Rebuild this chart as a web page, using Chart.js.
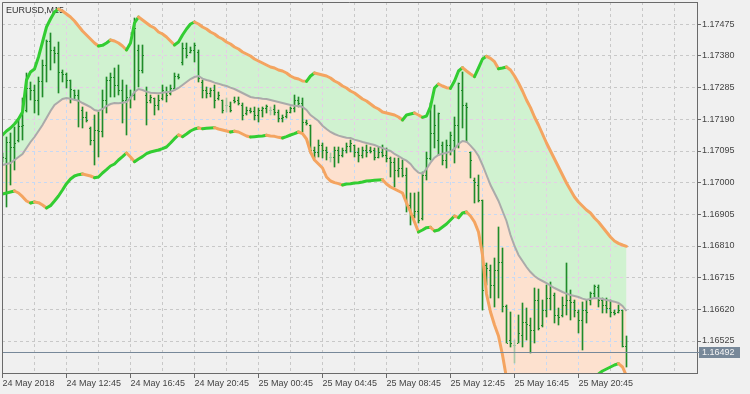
<!DOCTYPE html>
<html>
<head>
<meta charset="utf-8">
<title>EURUSD,M15</title>
<script src="https://cdn.jsdelivr.net/npm/chart.js@4.4.1/dist/chart.umd.min.js"></script>
<style>
  html, body { margin: 0; padding: 0; background: #f0f0f0; }
  #wrap { width: 750px; height: 394px; }
</style>
</head>
<body>
<div id="wrap"><canvas id="chart" width="750" height="394"></canvas></div>
<script>
const symbol = "EURUSD,M15";
const lastPrice = 1.16492;

// one label every 16 bars (4 hours of M15), grid line every 8 bars
const timeLabels = [
  "24 May 2018", "24 May 12:45", "24 May 16:45", "24 May 20:45", "25 May 00:45",
  "25 May 04:45", "25 May 08:45", "25 May 12:45", "25 May 16:45", "25 May 20:45"
];
const barsPerLabel = 16;
const barsPerGrid = 8;

const priceTicks = [1.16525, 1.16620, 1.16715, 1.16810, 1.16905, 1.17000,
  1.17095, 1.17190, 1.17285, 1.17380, 1.17475];

const opens = [
  1.17068, 1.17074, 1.17122, 1.17107, 1.17128, 1.17170, 1.17218, 1.17284, 1.17278, 1.17248,
  1.17305, 1.17353, 1.17425, 1.17398, 1.17389, 1.17332, 1.17326, 1.17308, 1.17278, 1.17263,
  1.17218, 1.17197, 1.17164, 1.17128, 1.17158, 1.17155, 1.17248, 1.17308, 1.17317, 1.17293,
  1.17278, 1.17248, 1.17257, 1.17263, 1.17398, 1.17338, 1.17263, 1.17248, 1.17254, 1.17233,
  1.17254, 1.17272, 1.17269, 1.17284, 1.17320, 1.17362, 1.17404, 1.17392, 1.17398, 1.17392,
  1.17302, 1.17278, 1.17269, 1.17278, 1.17254, 1.17248, 1.17233, 1.17230, 1.17248, 1.17248,
  1.17233, 1.17209, 1.17218, 1.17215, 1.17203, 1.17218, 1.17224, 1.17218, 1.17221, 1.17212,
  1.17194, 1.17200, 1.17212, 1.17224, 1.17248, 1.17239, 1.17182, 1.17173, 1.17098, 1.17092,
  1.17113, 1.17098, 1.17077, 1.17077, 1.17098, 1.17083, 1.17098, 1.17110, 1.17113, 1.17092,
  1.17083, 1.17098, 1.17098, 1.17098, 1.17077, 1.17092, 1.17083, 1.17074, 1.17062, 1.17038,
  1.17044, 1.17023, 1.16933, 1.16903, 1.16915, 1.16894, 1.17023, 1.17074, 1.17149, 1.17128,
  1.17113, 1.17068, 1.17113, 1.17128, 1.17173, 1.17278, 1.17233, 1.17092, 1.17008, 1.16993,
  1.16948, 1.16753, 1.16738, 1.16693, 1.16738, 1.16762, 1.16630, 1.16528, 1.16513, 1.16519,
  1.16543, 1.16582, 1.16573, 1.16558, 1.16648, 1.16573, 1.16618, 1.16654, 1.16663, 1.16603,
  1.16603, 1.16633, 1.16648, 1.16642, 1.16612, 1.16588, 1.16618, 1.16648, 1.16669, 1.16687,
  1.16648, 1.16633, 1.16624, 1.16612, 1.16612, 1.16618, 1.16510
];
const highs = [
  1.17089, 1.17137, 1.17149, 1.17167, 1.17188, 1.17254, 1.17329, 1.17302, 1.17293, 1.17317,
  1.17368, 1.17428, 1.17449, 1.17407, 1.17422, 1.17338, 1.17329, 1.17308, 1.17278, 1.17278,
  1.17227, 1.17212, 1.17167, 1.17203, 1.17212, 1.17278, 1.17317, 1.17329, 1.17344, 1.17353,
  1.17308, 1.17293, 1.17278, 1.17494, 1.17413, 1.17413, 1.17287, 1.17263, 1.17254, 1.17263,
  1.17293, 1.17287, 1.17293, 1.17329, 1.17326, 1.17419, 1.17419, 1.17407, 1.17419, 1.17398,
  1.17308, 1.17287, 1.17284, 1.17293, 1.17272, 1.17248, 1.17254, 1.17242, 1.17257, 1.17257,
  1.17239, 1.17227, 1.17224, 1.17227, 1.17224, 1.17227, 1.17233, 1.17227, 1.17233, 1.17218,
  1.17203, 1.17218, 1.17227, 1.17263, 1.17257, 1.17254, 1.17188, 1.17173, 1.17107, 1.17128,
  1.17119, 1.17107, 1.17089, 1.17107, 1.17107, 1.17104, 1.17119, 1.17128, 1.17113, 1.17104,
  1.17107, 1.17113, 1.17107, 1.17104, 1.17107, 1.17113, 1.17104, 1.17077, 1.17074, 1.17074,
  1.17068, 1.17044, 1.16969, 1.16969, 1.16972, 1.17032, 1.17092, 1.17239, 1.17233, 1.17209,
  1.17122, 1.17128, 1.17152, 1.17197, 1.17299, 1.17332, 1.17239, 1.17092, 1.17014, 1.17023,
  1.16948, 1.16759, 1.16753, 1.16774, 1.16867, 1.16804, 1.16633, 1.16612, 1.16528, 1.16603,
  1.16639, 1.16624, 1.16594, 1.16684, 1.16681, 1.16648, 1.16693, 1.16702, 1.16669, 1.16624,
  1.16657, 1.16759, 1.16678, 1.16648, 1.16618, 1.16642, 1.16648, 1.16672, 1.16693, 1.16693,
  1.16654, 1.16654, 1.16648, 1.16618, 1.16633, 1.16618, 1.16540
];
const lows = [
  1.17062, 1.16927, 1.16993, 1.17038, 1.17122, 1.17128, 1.17212, 1.17248, 1.17209, 1.17203,
  1.17257, 1.17302, 1.17338, 1.17359, 1.17269, 1.17302, 1.17284, 1.17239, 1.17248, 1.17167,
  1.17164, 1.17182, 1.17113, 1.17053, 1.17077, 1.17137, 1.17209, 1.17257, 1.17257, 1.17263,
  1.17179, 1.17143, 1.17224, 1.17248, 1.17287, 1.17329, 1.17173, 1.17239, 1.17203, 1.17218,
  1.17248, 1.17242, 1.17263, 1.17278, 1.17311, 1.17353, 1.17374, 1.17389, 1.17362, 1.17302,
  1.17254, 1.17254, 1.17257, 1.17224, 1.17248, 1.17209, 1.17212, 1.17212, 1.17239, 1.17233,
  1.17188, 1.17203, 1.17209, 1.17188, 1.17182, 1.17197, 1.17209, 1.17203, 1.17203, 1.17182,
  1.17182, 1.17194, 1.17209, 1.17212, 1.17227, 1.17152, 1.17173, 1.17089, 1.17074, 1.17077,
  1.17074, 1.17068, 1.17062, 1.17047, 1.17059, 1.17077, 1.17089, 1.17092, 1.17077, 1.17062,
  1.17074, 1.17077, 1.17089, 1.17068, 1.17074, 1.17077, 1.17062, 1.17017, 1.16987, 1.17017,
  1.17017, 1.16912, 1.16873, 1.16894, 1.16879, 1.16888, 1.17008, 1.17068, 1.17104, 1.17083,
  1.17053, 1.17044, 1.17083, 1.17059, 1.17104, 1.17164, 1.17122, 1.17014, 1.16939, 1.16942,
  1.16618, 1.16693, 1.16654, 1.16627, 1.16654, 1.16612, 1.16519, 1.16507, 1.16459, 1.16519,
  1.16507, 1.16528, 1.16489, 1.16519, 1.16558, 1.16567, 1.16597, 1.16618, 1.16579, 1.16573,
  1.16597, 1.16603, 1.16588, 1.16597, 1.16549, 1.16498, 1.16579, 1.16633, 1.16657, 1.16627,
  1.16609, 1.16609, 1.16597, 1.16603, 1.16609, 1.16507, 1.16447
];
const closes = [
  1.17077, 1.17122, 1.17107, 1.17119, 1.17170, 1.17173, 1.17284, 1.17278, 1.17248, 1.17305,
  1.17353, 1.17425, 1.17398, 1.17389, 1.17332, 1.17326, 1.17308, 1.17281, 1.17263, 1.17248,
  1.17197, 1.17188, 1.17128, 1.17158, 1.17155, 1.17248, 1.17308, 1.17317, 1.17293, 1.17278,
  1.17248, 1.17257, 1.17263, 1.17464, 1.17338, 1.17383, 1.17242, 1.17257, 1.17233, 1.17248,
  1.17278, 1.17263, 1.17284, 1.17320, 1.17317, 1.17404, 1.17383, 1.17398, 1.17413, 1.17314,
  1.17278, 1.17269, 1.17278, 1.17248, 1.17263, 1.17218, 1.17233, 1.17218, 1.17245, 1.17239,
  1.17203, 1.17218, 1.17215, 1.17203, 1.17218, 1.17224, 1.17230, 1.17218, 1.17212, 1.17194,
  1.17197, 1.17212, 1.17224, 1.17248, 1.17239, 1.17182, 1.17179, 1.17098, 1.17092, 1.17113,
  1.17098, 1.17092, 1.17077, 1.17098, 1.17083, 1.17098, 1.17110, 1.17119, 1.17092, 1.17083,
  1.17098, 1.17092, 1.17095, 1.17077, 1.17092, 1.17083, 1.17074, 1.17062, 1.17038, 1.17044,
  1.17023, 1.16933, 1.16903, 1.16915, 1.16888, 1.17023, 1.17074, 1.17149, 1.17173, 1.17209,
  1.17068, 1.17113, 1.17143, 1.17173, 1.17299, 1.17233, 1.17227, 1.17068, 1.17002, 1.16948,
  1.16678, 1.16744, 1.16693, 1.16738, 1.16762, 1.16630, 1.16519, 1.16519, 1.16513, 1.16549,
  1.16582, 1.16576, 1.16558, 1.16648, 1.16564, 1.16618, 1.16654, 1.16690, 1.16603, 1.16597,
  1.16633, 1.16648, 1.16642, 1.16618, 1.16588, 1.16618, 1.16612, 1.16669, 1.16690, 1.16648,
  1.16633, 1.16624, 1.16612, 1.16609, 1.16618, 1.16510, 1.16492
];

const upperBand = [
  1.17143, 1.17155, 1.17164, 1.17176, 1.17191, 1.17212, 1.17308, 1.17332, 1.17341, 1.17377,
  1.17422, 1.17467, 1.17491, 1.17512, 1.17521, 1.17515, 1.17506, 1.17497, 1.17485, 1.17470,
  1.17455, 1.17443, 1.17431, 1.17419, 1.17410, 1.17412, 1.17419, 1.17428, 1.17425, 1.17419,
  1.17410, 1.17398, 1.17419, 1.17479, 1.17497, 1.17488, 1.17479, 1.17470, 1.17464, 1.17452,
  1.17446, 1.17437, 1.17425, 1.17413, 1.17422, 1.17443, 1.17461, 1.17476, 1.17482, 1.17476,
  1.17467, 1.17461, 1.17452, 1.17446, 1.17437, 1.17431, 1.17422, 1.17416, 1.17407, 1.17401,
  1.17392, 1.17386, 1.17380, 1.17371, 1.17365, 1.17359, 1.17353, 1.17347, 1.17344, 1.17338,
  1.17335, 1.17329, 1.17320, 1.17314, 1.17311, 1.17305, 1.17304, 1.17320, 1.17329, 1.17326,
  1.17323, 1.17320, 1.17314, 1.17305, 1.17299, 1.17290, 1.17284, 1.17275, 1.17269, 1.17260,
  1.17251, 1.17245, 1.17236, 1.17227, 1.17221, 1.17212, 1.17209, 1.17206, 1.17203, 1.17197,
  1.17188, 1.17203, 1.17206, 1.17209, 1.17203, 1.17196, 1.17200, 1.17228, 1.17284, 1.17296,
  1.17290, 1.17285, 1.17283, 1.17305, 1.17335, 1.17345, 1.17335, 1.17326, 1.17318, 1.17344,
  1.17371, 1.17379, 1.17373, 1.17363, 1.17342, 1.17344, 1.17347, 1.17338, 1.17320, 1.17299,
  1.17275, 1.17248, 1.17225, 1.17197, 1.17173, 1.17146, 1.17119, 1.17095, 1.17071, 1.17047,
  1.17023, 1.16999, 1.16978, 1.16957, 1.16942, 1.16930, 1.16918, 1.16909, 1.16894, 1.16882,
  1.16867, 1.16852, 1.16837, 1.16825, 1.16818, 1.16813, 1.16809
];
const middleBand = [
  1.17053, 1.17056, 1.17059, 1.17068, 1.17077, 1.17086, 1.17104, 1.17122, 1.17137, 1.17155,
  1.17173, 1.17194, 1.17215, 1.17233, 1.17242, 1.17251, 1.17254, 1.17252, 1.17249, 1.17246,
  1.17239, 1.17233, 1.17227, 1.17218, 1.17215, 1.17221, 1.17230, 1.17236, 1.17239, 1.17238,
  1.17240, 1.17242, 1.17254, 1.17272, 1.17281, 1.17278, 1.17273, 1.17270, 1.17269, 1.17268,
  1.17270, 1.17272, 1.17273, 1.17278, 1.17284, 1.17293, 1.17302, 1.17311, 1.17317, 1.17320,
  1.17312, 1.17308, 1.17305, 1.17300, 1.17297, 1.17293, 1.17290, 1.17285, 1.17281, 1.17275,
  1.17269, 1.17263, 1.17257, 1.17255, 1.17254, 1.17252, 1.17251, 1.17248, 1.17245, 1.17242,
  1.17239, 1.17236, 1.17233, 1.17231, 1.17230, 1.17227, 1.17218, 1.17203, 1.17194, 1.17185,
  1.17171, 1.17161, 1.17152, 1.17146, 1.17141, 1.17138, 1.17135, 1.17134, 1.17129, 1.17126,
  1.17122, 1.17119, 1.17116, 1.17113, 1.17108, 1.17104, 1.17099, 1.17095, 1.17086, 1.17080,
  1.17072, 1.17066, 1.17056, 1.17041, 1.17030, 1.17027, 1.17041, 1.17060, 1.17075, 1.17083,
  1.17087, 1.17090, 1.17093, 1.17102, 1.17116, 1.17125, 1.17123, 1.17111, 1.17098, 1.17080,
  1.17053, 1.17023, 1.16993, 1.16969, 1.16945, 1.16915, 1.16885, 1.16843, 1.16810, 1.16783,
  1.16765, 1.16747, 1.16732, 1.16720, 1.16711, 1.16705, 1.16699, 1.16691, 1.16684, 1.16678,
  1.16672, 1.16667, 1.16663, 1.16660, 1.16657, 1.16652, 1.16649, 1.16651, 1.16654, 1.16653,
  1.16651, 1.16648, 1.16646, 1.16643, 1.16639, 1.16630, 1.16615
];
const lowerBand = [
  1.16966, 1.16969, 1.16972, 1.16975, 1.16969, 1.16958, 1.16945, 1.16939, 1.16942, 1.16940,
  1.16933, 1.16924, 1.16931, 1.16945, 1.16960, 1.16978, 1.16997, 1.17011, 1.17020, 1.17024,
  1.17026, 1.17023, 1.17020, 1.17015, 1.17017, 1.17029, 1.17039, 1.17050, 1.17056, 1.17068,
  1.17078, 1.17089, 1.17077, 1.17063, 1.17071, 1.17078, 1.17087, 1.17092, 1.17095, 1.17098,
  1.17102, 1.17107, 1.17119, 1.17132, 1.17143, 1.17138, 1.17146, 1.17155, 1.17161, 1.17164,
  1.17162, 1.17163, 1.17164, 1.17165, 1.17161, 1.17158, 1.17155, 1.17152, 1.17154, 1.17152,
  1.17146, 1.17140, 1.17137, 1.17138, 1.17139, 1.17140, 1.17142, 1.17140, 1.17139, 1.17136,
  1.17134, 1.17138, 1.17143, 1.17147, 1.17152, 1.17147, 1.17131, 1.17092, 1.17068, 1.17056,
  1.17044, 1.17017, 1.17005, 1.17000, 1.16997, 1.16993, 1.16996, 1.16997, 1.16999, 1.17000,
  1.17002, 1.17005, 1.17006, 1.17007, 1.17008, 1.17009, 1.16996, 1.16987, 1.16981, 1.16975,
  1.16969, 1.16939, 1.16912, 1.16882, 1.16852, 1.16858, 1.16865, 1.16866, 1.16855, 1.16858,
  1.16867, 1.16876, 1.16888, 1.16900, 1.16895, 1.16909, 1.16912, 1.16900, 1.16882, 1.16852,
  1.16783, 1.16666, 1.16612, 1.16573, 1.16540, 1.16483, 1.16414, 1.16348, 1.16300, 1.16267,
  1.16255, 1.16246, 1.16240, 1.16243, 1.16249, 1.16264, 1.16279, 1.16288, 1.16297, 1.16309,
  1.16321, 1.16336, 1.16348, 1.16363, 1.16372, 1.16375, 1.16381, 1.16393, 1.16414, 1.16426,
  1.16435, 1.16441, 1.16447, 1.16453, 1.16457, 1.16447, 1.16420
];

const fontFamily = "'Liberation Sans', Arial, sans-serif";
const textColor = "#444444";
const axisColor = "#6a6a6a";
const gridColor = "#c8c8c8";
const gridDash = [3, 3];
const barColor = "#1f8c2a";
const dojiColor = "#a8c8a8";
const riseColor = "#32cd32";
const fallColor = "#f4a460";
const upperFill = "#d0f2d0";
const lowerFill = "#fde1cf";
// grid seen through the fills (terminal draws grid in xor, so it tints)
const gridOnUpperFill = "#e6cde6";
const gridOnLowerFill = "#c6d9f4";
const priceColor = "#778899";

Chart.defaults.font.family = fontFamily;
Chart.defaults.font.size = 9;
Chart.defaults.color = textColor;

// tiny 5x1 stamps: open tick left of the bar, close tick right of it
function tickStamp(col, color) {
  const c = document.createElement("canvas");
  c.width = 5;
  c.height = 1;
  const g = c.getContext("2d");
  g.fillStyle = color;
  g.fillRect(col, 0, 1, 1);
  return c;
}
const openStamp = tickStamp(1, barColor);
const closeStamp = tickStamp(3, barColor);
const openStampDoji = tickStamp(1, dojiColor);
const closeStampDoji = tickStamp(3, dojiColor);

const isDoji = (i) => opens[i] === closes[i];
const xy = (arr) => arr.map((v, i) => ({ x: i, y: v }));
const slopeColor = (ctx) => (ctx.p1.parsed.y >= ctx.p0.parsed.y ? riseColor : fallColor);

const gridBars = [];
for (let i = 0; i <= 168; i += barsPerGrid) gridBars.push(i);
const labelAt = (v) => (v % barsPerLabel === 0 && timeLabels[v / barsPerLabel]) || "";

// band outline without segment styling, used only as fill edges (no seams)
const fillEdge = (arr, fill, color) => ({
  data: xy(arr),
  borderWidth: 0,
  pointRadius: 0,
  tension: 0,
  fill: fill,
  backgroundColor: color,
  order: 5
});
const bandLine = (arr) => ({
  data: xy(arr),
  borderColor: fallColor,
  segment: { borderColor: slopeColor },
  borderWidth: 3,
  borderCapStyle: "round",
  borderJoinStyle: "round",
  pointRadius: 0,
  tension: 0,
  fill: false,
  order: 1
});

const crisp = (p) => Math.round(p - 0.5) + 0.5;

function clipBetween(ctx, topPts, botPts) {
  ctx.beginPath();
  topPts.forEach((p, i) => (i ? ctx.lineTo(p.x, p.y) : ctx.moveTo(p.x, p.y)));
  for (let i = botPts.length - 1; i >= 0; i--) ctx.lineTo(botPts[i].x, botPts[i].y);
  ctx.closePath();
  ctx.clip();
}

function strokeGrid(chart, color) {
  const { ctx, chartArea: a, scales } = chart;
  ctx.strokeStyle = color;
  ctx.lineWidth = 1;
  ctx.setLineDash(gridDash);
  ctx.beginPath();
  scales.x.ticks.forEach((t) => {
    const x = crisp(scales.x.getPixelForValue(t.value));
    ctx.moveTo(x, a.top);
    ctx.lineTo(x, a.bottom);
  });
  scales.y.ticks.forEach((t) => {
    const y = crisp(scales.y.getPixelForValue(t.value));
    ctx.moveTo(a.left, y);
    ctx.lineTo(a.right, y);
  });
  ctx.stroke();
}

const mtDecor = {
  id: "mtDecor",
  beforeDatasetsDraw(chart) {
    const { ctx, chartArea: a } = chart;
    ctx.imageSmoothingEnabled = false;

    const up = chart.getDatasetMeta(0).data;
    const mid = chart.getDatasetMeta(1).data;
    const low = chart.getDatasetMeta(2).data;
    [[up, mid, gridOnUpperFill], [mid, low, gridOnLowerFill]].forEach(([t, b, c]) => {
      ctx.save();
      ctx.beginPath();
      ctx.rect(a.left, a.top, a.right - a.left, a.bottom - a.top);
      ctx.clip();
      clipBetween(ctx, t, b);
      strokeGrid(chart, c);
      ctx.restore();
    });

    ctx.save();
    ctx.font = "9px " + fontFamily;
    ctx.fillStyle = "#333333";
    ctx.textBaseline = "alphabetic";
    ctx.fillText(symbol, a.left + 4, a.top + 11);
    ctx.restore();
  },
  afterDatasetsDraw(chart) {
    const { ctx, chartArea: a, scales } = chart;
    const y = Math.round(scales.y.getPixelForValue(lastPrice)) + 0.5;
    ctx.save();
    ctx.strokeStyle = priceColor;
    ctx.lineWidth = 1;
    ctx.beginPath();
    ctx.moveTo(a.left, y);
    ctx.lineTo(a.right + 2, y);
    ctx.stroke();
    ctx.restore();
  },
  afterDraw(chart) {
    const { ctx, chartArea: a, scales } = chart;
    ctx.save();
    ctx.strokeStyle = axisColor;
    ctx.lineWidth = 1;
    ctx.beginPath();
    ctx.moveTo(a.left + 0.5, a.bottom);
    ctx.lineTo(a.left + 0.5, a.top + 0.5);
    ctx.lineTo(a.right, a.top + 0.5);
    ctx.stroke();

    const y = Math.round(scales.y.getPixelForValue(lastPrice));
    ctx.fillStyle = priceColor;
    ctx.fillRect(a.right + 2, y - 5, 41, 11);
    ctx.fillStyle = "#f4f4f4";
    ctx.font = "9px " + fontFamily;
    ctx.textBaseline = "middle";
    ctx.fillText(lastPrice.toFixed(5), a.right + 5, y + 0.5);
    ctx.restore();
  }
};

new Chart(document.getElementById("chart"), {
  type: "line",
  data: {
    datasets: [
      fillEdge(upperBand, "+1", upperFill),
      {
        data: xy(middleBand),
        borderColor: "#aaaaaa",
        borderWidth: 2,
        pointRadius: 0,
        tension: 0,
        fill: "+1",
        backgroundColor: lowerFill,
        order: 1
      },
      fillEdge(lowerBand, false, "transparent"),
      bandLine(upperBand),
      bandLine(lowerBand),
      {
        type: "bar",
        data: highs.map((h, i) => ({ x: i, y: [lows[i], h] })),
        backgroundColor: highs.map((_, i) => (isDoji(i) ? dojiColor : barColor)),
        barThickness: 1,
        borderWidth: 0,
        grouped: false,
        order: 3
      },
      {
        type: "scatter",
        data: xy(opens),
        pointRadius: 1,
        pointStyle: (ctx) => (isDoji(ctx.dataIndex) ? openStampDoji : openStamp),
        order: 2
      },
      {
        type: "scatter",
        data: xy(closes),
        pointRadius: 1,
        pointStyle: (ctx) => (isDoji(ctx.dataIndex) ? closeStampDoji : closeStamp),
        order: 2
      }
    ]
  },
  options: {
    responsive: false,
    devicePixelRatio: 1,
    animation: false,
    events: [],
    layout: { autoPadding: false, padding: { left: 2, top: 2, right: 0, bottom: 0 } },
    plugins: {
      legend: { display: false },
      tooltip: { enabled: false },
      filler: { drawTime: "beforeDatasetsDraw" }
    },
    scales: {
      x: {
        type: "linear",
        offset: false,
        min: -0.125,
        max: 173.625,
        afterBuildTicks: (scale) => {
          scale.ticks = gridBars.map((v) => ({ value: v }));
        },
        afterFit: (scale) => {
          scale.height = 21;
          scale.paddingLeft = 0;
          scale.paddingRight = 0;
        },
        ticks: {
          autoSkip: false,
          maxRotation: 0,
          align: "start",
          padding: 0,
          color: textColor,
          callback: (v) => labelAt(v)
        },
        grid: {
          offset: false,
          color: gridColor,
          lineWidth: 1,
          tickLength: 5,
          tickColor: (ctx) => (ctx.tick && labelAt(ctx.tick.value) ? axisColor : "rgba(0,0,0,0)")
        },
        border: { color: axisColor, width: 1, dash: gridDash }
      },
      y: {
        type: "linear",
        position: "right",
        min: 1.16429,
        max: 1.17542,
        afterBuildTicks: (scale) => {
          scale.ticks = priceTicks.map((v) => ({ value: v }));
        },
        afterFit: (scale) => {
          scale.width = 53;
          scale.paddingTop = 0;
          scale.paddingBottom = 0;
        },
        ticks: {
          padding: 1,
          color: textColor,
          callback: (v) => Number(v).toFixed(5)
        },
        grid: {
          color: gridColor,
          lineWidth: 1,
          tickLength: 4,
          tickColor: axisColor
        },
        border: { color: axisColor, width: 1, dash: gridDash }
      }
    }
  },
  plugins: [mtDecor]
});
</script>
</body>
</html>
